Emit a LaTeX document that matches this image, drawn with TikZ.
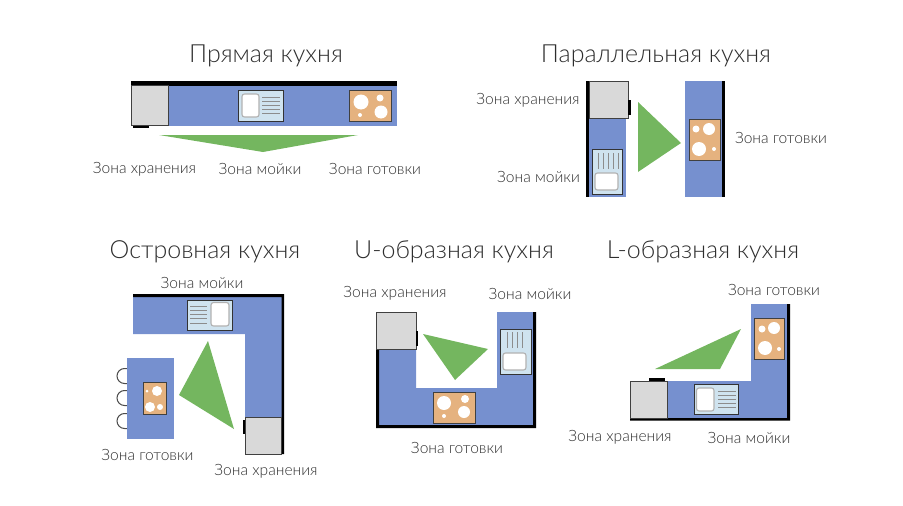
\documentclass[tikz,border=0pt]{standalone}
\usepackage{fontspec}
\setmainfont{Lato Light}
\usepackage{xcolor}
\usetikzlibrary{positioning}
\definecolor{counterblue}{HTML}{7690CF}
\definecolor{zonegreen}{HTML}{74B65F}
\definecolor{unitgray}{HTML}{D9D9D9}
\definecolor{hobtan}{HTML}{E5B27F}
\definecolor{sinkblue}{HTML}{CFE3EF}
\definecolor{inkgray}{HTML}{2E2E2E}

\begin{document}
\begin{tikzpicture}[
    x=1pt, y=-1pt,
    title/.style={font=\fontsize{25}{28}\selectfont, text=inkgray, inner sep=0pt},
    zone/.style={font=\fontsize{15.6}{17}\selectfont, text=inkgray, inner sep=0pt},
    counter/.style={fill=counterblue, draw=none},
    wall/.style={fill=black, draw=none},
    storage/.style={fill=unitgray, draw=black!75, line width=1pt},
    handle/.style={fill=black, draw=none},
    workzone/.style={fill=zonegreen, draw=none},
    hob/.style={fill=hobtan, draw=black!75, line width=0.9pt},
    burner/.style={fill=white, draw=none},
    sink/.style={fill=sinkblue, draw=black!80, line width=0.9pt},
    bowl/.style={fill=white, draw=black!30, line width=1.1pt, rounded corners=2.5pt},
    drain/.style={draw=black!45, line width=0.7pt},
    stool/.style={draw=black!70, line width=1pt}
]
\useasboundingbox (0,0) rectangle (903,506);

% ==================== STRAIGHT ====================
\node[title] (straighttitle) at (266, 56) {Прямая кухня};
\fill[counter] (168, 85) rectangle (397, 125.5);
\fill[wall] (131, 81) rectangle (397, 85.5);
\filldraw[storage] (131.5, 85.5) rectangle (168, 125.5);
\fill[handle] (133, 126) rectangle (149, 128);
\filldraw[sink] (238, 90.5) rectangle (283, 121);
\filldraw[bowl] (242, 94) rectangle (259, 117);
\foreach \y in {97, 101, 105, 109, 113} \draw[drain] (262, \y) -- (280, \y);
\filldraw[hob] (349, 90.5) rectangle (391, 121);
\fill[burner] (361, 102) circle (7.5) (380, 98) circle (3.5) (381, 112) circle (6.5) (360, 115) circle (2);
\fill[workzone] (159, 135) -- (358, 135) -- (263, 152) -- cycle;
\node[zone] (straightstore) at (144.5, 169) {Зона хранения};
\node[zone] (straightsink) at (260, 169) {Зона мойки};
\node[zone] (straighthob) at (375, 169) {Зона готовки};

% ==================== PARALLEL ====================
\node[title] (paralleltitle) at (656, 56) {Параллельная кухня};
\fill[counter] (589, 118) rectangle (626, 197);
\fill[wall] (586, 81) rectangle (589, 197);
\filldraw[storage] (589, 81.5) rectangle (628, 118);
\fill[handle] (628, 100) rectangle (631, 115);
\filldraw[sink] (592, 149) rectangle (622, 194);
\filldraw[bowl] (595, 173) rectangle (618, 190);
\foreach \x in {598, 603, 608, 613, 618} \draw[drain] (\x, 153) -- (\x, 169);
\fill[workzone] (638, 102) -- (681, 143) -- (638, 172) -- cycle;
\fill[counter] (685, 81) rectangle (722, 197);
\fill[wall] (722, 81) rectangle (725, 197);
\filldraw[hob] (689, 119) rectangle (720, 160);
\fill[burner] (696, 129) circle (3.5) (709, 129) circle (6) (699, 149) circle (7) (714, 149) circle (2);
\node[zone] (parallelstore) at (528, 100) {Зона хранения};
\node[zone] (parallelsink) at (538.5, 176.5) {Зона мойки};
\node[zone] (parallelhob) at (781, 137.5) {Зона готовки};

% ==================== ISLAND ====================
\node[title] (islandtitle) at (205, 252) {Островная кухня};
\fill[counter] (133, 297) rectangle (282, 334) (245, 297) rectangle (282, 417);
\fill[wall] (133, 294) rectangle (284, 297) (281.5, 294) rectangle (284, 454);
\filldraw[storage] (245, 417) rectangle (281.5, 454);
\fill[handle] (243, 420) rectangle (245, 434);
\filldraw[sink] (187, 300) rectangle (232, 330);
\filldraw[bowl] (211, 302.5) rectangle (229, 326);
\foreach \y in {306, 310.5, 314.5, 318.5, 323} \draw[drain] (190, \y) -- (207, \y);
\foreach \y in {376, 398, 421} \draw[stool] (127, \y+7.5) -- (124.5, \y+7.5) arc[start angle=90, end angle=270, radius=7.5] -- (127, \y-7.5);
\fill[counter] (127, 358) rectangle (174, 439);
\filldraw[hob] (143, 382) rectangle (166, 414);
\fill[burner] (157, 391) circle (5) (147, 391) circle (1.5) (150, 407) circle (5) (160, 407) circle (3);
\fill[workzone] (208, 341) -- (179, 395) -- (234, 429) -- cycle;
\node[zone] (islandsink) at (202, 282.5) {Зона мойки};
\node[zone] (islandhob) at (147.5, 455) {Зона готовки};
\node[zone] (islandstore) at (266, 471.5) {Зона хранения};

% ==================== U-SHAPED ====================
\node[title] (utitle) at (454, 252) {U-образная кухня};
\fill[counter] (379, 348) rectangle (416, 425) (379, 388) rectangle (533, 425) (497, 312) rectangle (533, 425);
\fill[wall] (376, 348) rectangle (379, 428) (376, 425) rectangle (536, 428) (533, 312) rectangle (536, 428);
\filldraw[storage] (376.5, 312) rectangle (416, 349);
\fill[handle] (416, 331) rectangle (418, 346);
\filldraw[sink] (500, 329) rectangle (531, 374);
\filldraw[bowl] (503, 353) rectangle (526, 370);
\foreach \x in {507, 512, 517, 522} \draw[drain] (\x, 332) -- (\x, 348);
\filldraw[hob] (433, 392) rectangle (475, 423);
\fill[burner] (444, 403) circle (7) (465, 399) circle (4) (464, 412) circle (6) (444, 416) circle (2);
\fill[workzone] (423, 334) -- (488, 349) -- (455, 380) -- cycle;
\node[zone] (ustore) at (395, 293.5) {Зона хранения};
\node[zone] (usink) at (530, 293.5) {Зона мойки};
\node[zone] (uhob) at (457, 447.5) {Зона готовки};

% ==================== L-SHAPED ====================
\node[title] (ltitle) at (703, 252) {L-образная кухня};
\fill[counter] (667, 381) rectangle (787, 418) (751, 304) rectangle (787, 418);
\fill[wall] (630, 418) rectangle (790, 420.5) (787, 304) rectangle (790, 420.5);
\filldraw[storage] (630.5, 381) rectangle (667, 418);
\fill[handle] (649, 378) rectangle (665, 381);
\filldraw[sink] (694, 384) rectangle (738, 414);
\filldraw[bowl] (696.5, 388) rectangle (714, 411);
\foreach \y in {391, 395, 399, 403, 407} \draw[drain] (718, \y) -- (736, \y);
\filldraw[hob] (754, 318) rectangle (784, 359);
\fill[burner] (762, 329) circle (3.5) (774, 328) circle (6) (765, 348) circle (7) (779, 349) circle (2);
\fill[workzone] (741, 329) -- (655, 369) -- (720, 369) -- cycle;
\node[zone] (lhob) at (774, 289.5) {Зона готовки};
\node[zone] (lstore) at (620, 437.5) {Зона хранения};
\node[zone] (lsink) at (749, 437.5) {Зона мойки};

\end{tikzpicture}
\end{document}
